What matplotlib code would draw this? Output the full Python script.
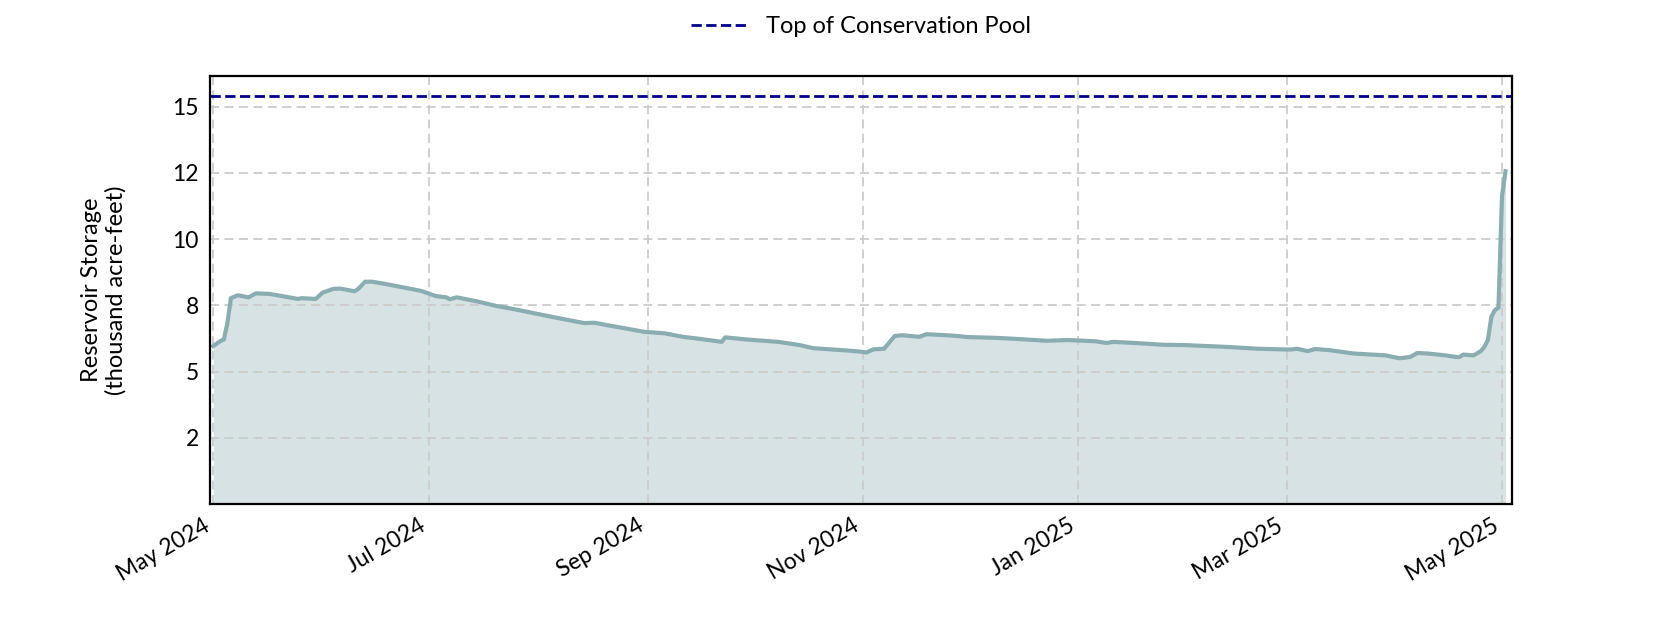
import numpy as np
import pandas as pd
import matplotlib
matplotlib.use("Agg")
import matplotlib.pyplot as plt
import matplotlib.dates as mdates
from matplotlib.ticker import MultipleLocator, FuncFormatter

plt.rcParams['font.family'] = ['Lato', 'DejaVu Sans']

# storage readings (thousand acre-feet)
dates = ["2024-05-01", "2024-05-03", "2024-05-04", "2024-05-05", "2024-05-06",
         "2024-05-08", "2024-05-11", "2024-05-13", "2024-05-17", "2024-05-25",
         "2024-05-26", "2024-05-30", "2024-06-01", "2024-06-04", "2024-06-06",
         "2024-06-10", "2024-06-11", "2024-06-13", "2024-06-15", "2024-06-19",
         "2024-06-24", "2024-06-29", "2024-07-03", "2024-07-06", "2024-07-07",
         "2024-07-09", "2024-07-15", "2024-07-20", "2024-07-25", "2024-08-01",
         "2024-08-07", "2024-08-14", "2024-08-17", "2024-08-21", "2024-08-24",
         "2024-08-31", "2024-09-06", "2024-09-11", "2024-09-16", "2024-09-22",
         "2024-09-23", "2024-09-29", "2024-10-08", "2024-10-14", "2024-10-18",
         "2024-10-28", "2024-11-01", "2024-11-02", "2024-11-04", "2024-11-07",
         "2024-11-10", "2024-11-12", "2024-11-17", "2024-11-19", "2024-11-26",
         "2024-12-01", "2024-12-09", "2024-12-16", "2024-12-23", "2024-12-29",
         "2025-01-06", "2025-01-09", "2025-01-11", "2025-01-18", "2025-01-25",
         "2025-01-31", "2025-02-05", "2025-02-12", "2025-02-21", "2025-03-02",
         "2025-03-04", "2025-03-07", "2025-03-09", "2025-03-13", "2025-03-20",
         "2025-03-29", "2025-04-02", "2025-04-05", "2025-04-07", "2025-04-10",
         "2025-04-15", "2025-04-18", "2025-04-19", "2025-04-20", "2025-04-23",
         "2025-04-25", "2025-04-26", "2025-04-27", "2025-04-28", "2025-04-29",
         "2025-04-30", "2025-05-01", "2025-05-02"]
storage = [5.96, 6.15, 6.21, 6.82, 7.77,
           7.88, 7.80, 7.95, 7.93, 7.74,
           7.77, 7.74, 7.98, 8.12, 8.13,
           8.03, 8.11, 8.39, 8.39, 8.30,
           8.17, 8.04, 7.85, 7.80, 7.73,
           7.80, 7.64, 7.48, 7.36, 7.17,
           7.01, 6.83, 6.84, 6.74, 6.67,
           6.50, 6.44, 6.31, 6.23, 6.12,
           6.29, 6.21, 6.12, 6.00, 5.88,
           5.79, 5.74, 5.72, 5.84, 5.86,
           6.34, 6.37, 6.31, 6.41, 6.36,
           6.30, 6.27, 6.22, 6.16, 6.19,
           6.14, 6.08, 6.12, 6.07, 6.01,
           6.00, 5.97, 5.93, 5.86, 5.83,
           5.86, 5.77, 5.85, 5.81, 5.68,
           5.61, 5.50, 5.55, 5.70, 5.68,
           5.61, 5.55, 5.55, 5.64, 5.61,
           5.77, 5.93, 6.19, 7.07, 7.32,
           7.41, 11.61, 12.56]
top_of_conservation = 15.4

dates = pd.to_datetime(dates)

fig, ax = plt.subplots(figsize=(16.8, 6.3), dpi=100)

ax.fill_between(dates, storage, 0, color='#8aadb2', alpha=0.35, lw=0)
ax.plot(dates, storage, color='#8aadb2', lw=3)
ax.axhline(top_of_conservation, color='#00008b', ls='--', lw=2,
           label='Top of Conservation Pool')

ax.set_xlim(pd.Timestamp("2024-04-30 02:00"), pd.Timestamp("2025-05-03 20:00"))
ax.set_ylim(0, top_of_conservation * 1.05)

ax.yaxis.set_major_locator(MultipleLocator(2.5))
ax.yaxis.set_major_formatter(FuncFormatter(lambda v, p: '' if v == 0 else '{:.0f}'.format(v)))
ax.xaxis.set_major_locator(mdates.MonthLocator(bymonth=[1, 3, 5, 7, 9, 11]))
ax.xaxis.set_major_formatter(mdates.DateFormatter('%b %Y'))

ax.grid(True, color='#cccccc', ls=(0, (5, 3)), lw=1.3)
ax.tick_params(length=0, labelsize=16.5, pad=8)
for s in ax.spines.values():
    s.set_linewidth(1.6)

ax.set_ylabel('Reservoir Storage\n(thousand acre-feet)', fontsize=17, labelpad=33)
ax.legend(loc='center', bbox_to_anchor=(0.5, 1.115), frameon=False, fontsize=17,
          handlelength=2.4)

fig.autofmt_xdate()
fig.savefig('out.png', dpi=100)
